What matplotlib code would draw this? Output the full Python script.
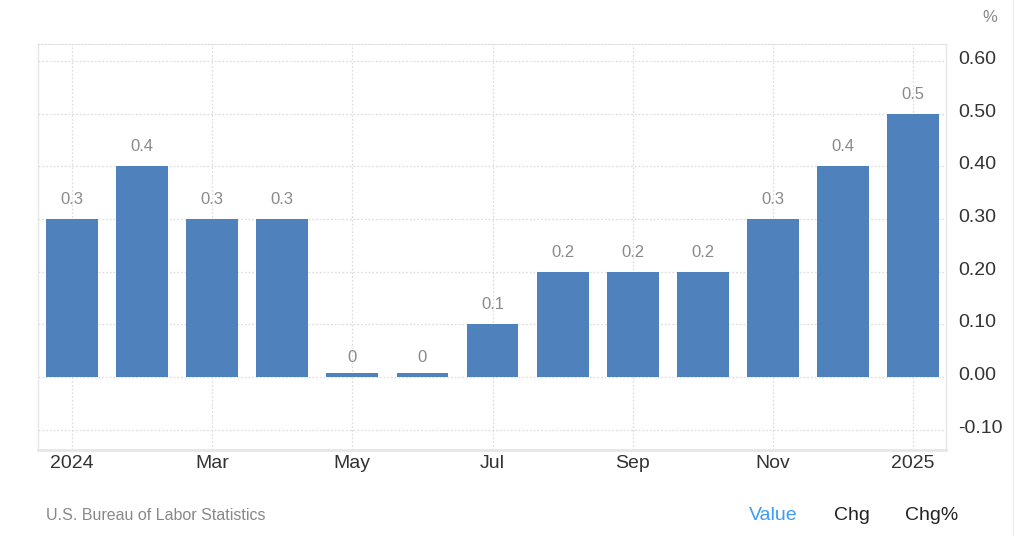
import matplotlib.pyplot as plt
import matplotlib.lines as mlines
import matplotlib.transforms as mtransforms
import numpy as np

plt.rcParams['font.family'] = ['Liberation Sans', 'DejaVu Sans']

months = ["Jan", "Feb", "Mar", "Apr", "May", "Jun", "Jul",
          "Aug", "Sep", "Oct", "Nov", "Dec", "Jan"]
values = [0.3, 0.4, 0.3, 0.3, 0.0, 0.0, 0.1, 0.2, 0.2, 0.2, 0.3, 0.4, 0.5]
tick_pos = [0, 2, 4, 6, 8, 10, 12]
tick_labels = ["2024", "Mar", "May", "Jul", "Sep", "Nov", "2025"]
y_ticks = [-0.1, 0.0, 0.1, 0.2, 0.3, 0.4, 0.5, 0.6]

bar_color = "#4f81bd"
grid_color = "#dedede"

fig = plt.figure(figsize=(10.24, 5.36), dpi=100)
ax = fig.add_axes([38 / 1024, 86 / 536, 908 / 1024, 406 / 536])

x = np.arange(len(values))
# zero bars still show a thin sliver like the original
heights = np.maximum(values, 0.007)
ax.bar(x, heights, width=0.74, color=bar_color, zorder=3)

for xi, v in zip(x, values):
    ax.annotate(f"{v:g}", (xi, v), xytext=(0, 14), textcoords="offset points",
                ha="center", va="center", fontsize=12, color="#8a8a8a")

ax.set_xlim(-0.485, 12.47)
ax.set_ylim(-0.1385, 0.632)

ax.yaxis.tick_right()
ax.set_yticks(y_ticks)
ax.set_yticklabels([f"{t:.2f}" for t in y_ticks])
ax.set_xticks(tick_pos)
ax.set_xticklabels(tick_labels)
ax.tick_params(axis="y", length=0, pad=8.5, labelsize=14, labelcolor="#333333")
ax.tick_params(axis="x", length=0, pad=3.5, labelsize=14, labelcolor="#333333")

# y labels sit a little above their gridlines
shift = mtransforms.ScaledTranslation(0, 3.5 / 100, fig.dpi_scale_trans)
for lab in ax.get_yticklabels():
    lab.set_transform(lab.get_transform() + shift)

ax.grid(axis="both", color=grid_color, linestyle=(0, (1.5, 1.5)), linewidth=0.9, zorder=0)

for side in ["left", "right"]:
    ax.spines[side].set_color("#e6e6e6")
    ax.spines[side].set_linewidth(1)
ax.spines["top"].set_color(grid_color)
ax.spines["top"].set_linestyle((0, (1.5, 1.5)))
ax.spines["bottom"].set_color("#e6e6e6")
ax.spines["bottom"].set_linewidth(2)

fig.text(990 / 1024, 1 - 17 / 536, "%", ha="center", va="center", fontsize=12, color="#888888")
fig.text(46 / 1024, 1 - 515 / 536, "U.S. Bureau of Labor Statistics", ha="left", va="center",
         fontsize=11.5, color="#888888")
fig.text(773 / 1024, 1 - 515 / 536, "Value", ha="center", va="center", fontsize=14, color="#3d9bf5")
fig.text(852 / 1024, 1 - 515 / 536, "Chg", ha="center", va="center", fontsize=14, color="#222222")
fig.text(932 / 1024, 1 - 515 / 536, "Chg%", ha="center", va="center", fontsize=14, color="#222222")

fig.add_artist(mlines.Line2D([1013 / 1024, 1013 / 1024], [0, 1], color="#eeeeee", linewidth=1))

fig.savefig("out.png", dpi=100)
